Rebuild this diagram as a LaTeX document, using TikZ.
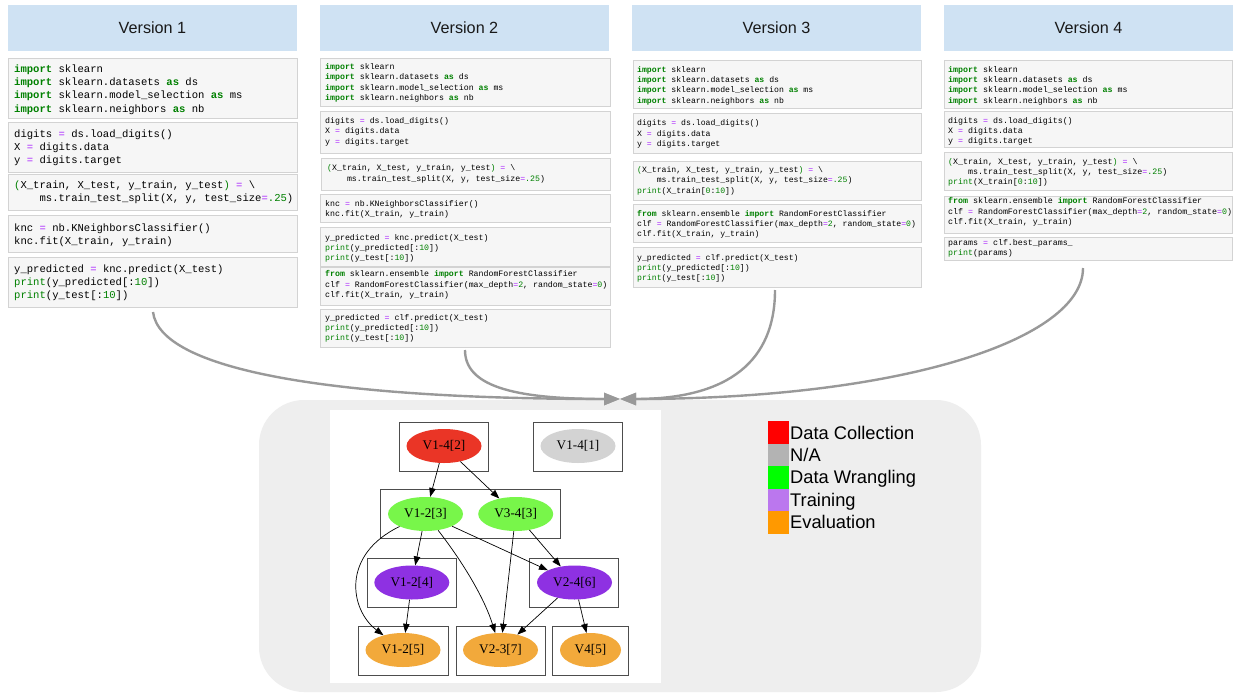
\documentclass[tikz,border=0pt]{standalone}
\usepackage{fontspec}
\setmainfont{Liberation Sans}
\newfontfamily\codefont{Liberation Mono}
\newfontfamily\graphfont{Liberation Serif}
\usetikzlibrary{arrows.meta,shapes.geometric}
\definecolor{hdrblue}{HTML}{CFE2F3}
\definecolor{cellfill}{HTML}{F6F6F6}
\definecolor{cellline}{HTML}{D3D3D3}
\definecolor{kwgreen}{HTML}{008000}
\definecolor{oppurple}{HTML}{AA22FF}
\definecolor{arrowgray}{HTML}{999999}
\definecolor{regiongray}{HTML}{EEEEEE}
\definecolor{boxline}{HTML}{4D4D4D}
\definecolor{gred}{HTML}{EA3526}
\definecolor{ggray}{HTML}{D3D3D3}
\definecolor{ggreen}{HTML}{78F64A}
\definecolor{gpurple}{HTML}{8E31E2}
\definecolor{gorange}{HTML}{F2A93B}
\definecolor{lred}{HTML}{FF0000}
\definecolor{lgray}{HTML}{B3B3B3}
\definecolor{lgreen}{HTML}{00FF00}
\definecolor{lpurple}{HTML}{BB77EE}
\definecolor{lorange}{HTML}{FF9900}
\newcommand\ckw[1]{\textcolor{kwgreen}{\bfseries #1}}
\newcommand\cop[1]{\textcolor{oppurple}{#1}}
\newcommand\cnum[1]{\textcolor{kwgreen}{#1}}
\newcommand\cind{\hphantom{XXXX}}
\tikzset{
  cell/.style={draw=cellline, fill=cellfill, line width=0.8pt},
  codeA/.style={anchor=north west, inner sep=0pt, align=left, font={\codefont\fontsize{10.57}{13.2}\selectfont}},
  codeB/.style={anchor=north west, inner sep=0pt, align=left, font={\codefont\fontsize{8.25}{10.4}\selectfont}},
  codeC/.style={anchor=north west, inner sep=0pt, align=left, font={\codefont\fontsize{8.15}{10.3}\selectfont}},
  codeD/.style={anchor=north west, inner sep=0pt, align=left, font={\codefont\fontsize{8.3}{10.3}\selectfont}},
  hdr/.style={fill=hdrblue, inner sep=0pt, minimum width=289pt, minimum height=45.5pt, text=black!90, font={\fontsize{16.2}{19}\selectfont}},
  bigarrow/.style={draw=arrowgray, line width=2.4pt, -{Triangle[length=16pt,width=12pt]}},
  gnode/.style={ellipse, inner sep=0pt, minimum width=75pt, minimum height=34pt, font={\graphfont\fontsize{13.2}{15}\selectfont}},
  gbox/.style={draw=boxline, line width=0.9pt},
  gedge/.style={draw=black, line width=0.7pt, -{Triangle[length=9pt,width=6.5pt]}},
  lsq/.style={inner sep=0pt, minimum width=21pt, minimum height=22.5pt, anchor=north west},
  ltext/.style={anchor=base west, inner sep=0pt, font={\fontsize{18.3}{20}\selectfont}}
}
\begin{document}
\begin{tikzpicture}[x=1pt, y=-1pt]
\useasboundingbox (0,0) rectangle (1233,693);
\fill[white] (0,0) rectangle (1233,693);

% ---------- headers ----------
\node[hdr] (h1) at (152.5,27.8) {Version 1};
\node[hdr] (h2) at (464.5,27.8) {Version 2};
\node[hdr] (h3) at (776.5,27.8) {Version 3};
\node[hdr] (h4) at (1088.5,27.8) {Version 4};

% ---------- Version 1 ----------
\draw[cell] (8,58) rectangle (297,118);
\node[codeA] (v1a) at (14,63.1) {\strut\ckw{import} sklearn\\
\strut\ckw{import} sklearn.datasets \ckw{as} ds\\
\strut\ckw{import} sklearn.model\_selection \ckw{as} ms\\
\strut\ckw{import} sklearn.neighbors \ckw{as} nb};
\draw[cell] (8,122) rectangle (297,172);
\node[codeA] (v1b) at (14,128.1) {\strut digits \cop{=} ds.load\_digits()\\
\strut X \cop{=} digits.data\\
\strut y \cop{=} digits.target};
\draw[cell] (8,174) rectangle (297,210);
\node[codeA] (v1c) at (14,178.8) {\strut\cnum{(}X\_train, X\_test, y\_train, y\_test\cnum{)} \cop{=} \textbackslash\\
\strut\cind ms.train\_test\_split(X, y, test\_size\cop{=}\cnum{.25})};
\draw[cell] (8,215) rectangle (297,252);
\node[codeA] (v1d) at (14,222.1) {\strut knc \cop{=} nb.KNeighborsClassifier()\\
\strut knc.fit(X\_train, y\_train)};
\draw[cell] (8,257) rectangle (297,307);
\node[codeA] (v1e) at (14,263.1) {\strut y\_predicted \cop{=} knc.predict(X\_test)\\
\strut\cnum{print}(y\_predicted[:\cnum{10}])\\
\strut\cnum{print}(y\_test[:\cnum{10}])};

% ---------- Version 2 ----------
\draw[cell] (320,58) rectangle (610,106);
\node[codeB] (v2a) at (325,62.0) {\strut\ckw{import} sklearn\\
\strut\ckw{import} sklearn.datasets \ckw{as} ds\\
\strut\ckw{import} sklearn.model\_selection \ckw{as} ms\\
\strut\ckw{import} sklearn.neighbors \ckw{as} nb};
\draw[cell] (320,111) rectangle (610,153);
\node[codeB] (v2b) at (325,116.0) {\strut digits \cop{=} ds.load\_digits()\\
\strut X \cop{=} digits.data\\
\strut y \cop{=} digits.target};
\draw[cell] (321,158) rectangle (610,190);
\node[codeB] (v2c) at (327,163.3) {\strut\cnum{(}X\_train, X\_test, y\_train, y\_test\cnum{)} \cop{=} \textbackslash\\
\strut\cind ms.train\_test\_split(X, y, test\_size\cop{=}\cnum{.25})};
\draw[cell] (320,194) rectangle (610,222);
\node[codeB] (v2d) at (325,199.0) {\strut knc \cop{=} nb.KNeighborsClassifier()\\
\strut knc.fit(X\_train, y\_train)};
\draw[cell] (320,227) rectangle (610,266);
\node[codeB] (v2e) at (325,232.7) {\strut y\_predicted \cop{=} knc.predict(X\_test)\\
\strut\cnum{print}(y\_predicted[:\cnum{10}])\\
\strut\cnum{print}(y\_test[:\cnum{10}])};
\draw[cell] (320,267) rectangle (610,305);
\node[codeB] (v2f) at (325,269.3) {\strut\ckw{from} sklearn.ensemble \ckw{import} RandomForestClassifier\\
\strut clf \cop{=} RandomForestClassifier(max\_depth\cop{=}\cnum{2}, random\_state\cop{=}\cnum{0})\\
\strut clf.fit(X\_train, y\_train)};
\draw[cell] (320,309) rectangle (610,347);
\node[codeB] (v2g) at (325,312.7) {\strut y\_predicted \cop{=} clf.predict(X\_test)\\
\strut\cnum{print}(y\_predicted[:\cnum{10}])\\
\strut\cnum{print}(y\_test[:\cnum{10}])};

% ---------- Version 3 ----------
\draw[cell] (633,60) rectangle (921,108);
\node[codeC] (v3a) at (637,64.8) {\strut\ckw{import} sklearn\\
\strut\ckw{import} sklearn.datasets \ckw{as} ds\\
\strut\ckw{import} sklearn.model\_selection \ckw{as} ms\\
\strut\ckw{import} sklearn.neighbors \ckw{as} nb};
\draw[cell] (633,113) rectangle (921,153);
\node[codeC] (v3b) at (637,118.4) {\strut digits \cop{=} ds.load\_digits()\\
\strut X \cop{=} digits.data\\
\strut y \cop{=} digits.target};
\draw[cell] (633,161) rectangle (921,200);
\node[codeC] (v3c) at (637,165.1) {\strut\cnum{(}X\_train, X\_test, y\_train, y\_test\cnum{)} \cop{=} \textbackslash\\
\strut\cind ms.train\_test\_split(X, y, test\_size\cop{=}\cnum{.25})\\
\strut\cnum{print}(X\_train[\cnum{0}:\cnum{10}])};
\draw[cell] (633,204) rectangle (921,242);
\node[codeC] (v3d) at (637,208.8) {\strut\ckw{from} sklearn.ensemble \ckw{import} RandomForestClassifier\\
\strut clf \cop{=} RandomForestClassifier(max\_depth\cop{=}\cnum{2}, random\_state\cop{=}\cnum{0})\\
\strut clf.fit(X\_train, y\_train)};
\draw[cell] (633,247) rectangle (921,287);
\node[codeC] (v3e) at (637,252.8) {\strut y\_predicted \cop{=} clf.predict(X\_test)\\
\strut\cnum{print}(y\_predicted[:\cnum{10}])\\
\strut\cnum{print}(y\_test[:\cnum{10}])};

% ---------- Version 4 ----------
\draw[cell] (944,60) rectangle (1232,108);
\node[codeD] (v4a) at (948,64.8) {\strut\ckw{import} sklearn\\
\strut\ckw{import} sklearn.datasets \ckw{as} ds\\
\strut\ckw{import} sklearn.model\_selection \ckw{as} ms\\
\strut\ckw{import} sklearn.neighbors \ckw{as} nb};
\draw[cell] (944,111) rectangle (1232,147);
\node[codeD] (v4b) at (948,115.8) {\strut digits \cop{=} ds.load\_digits()\\
\strut X \cop{=} digits.data\\
\strut y \cop{=} digits.target};
\draw[cell] (944,152) rectangle (1232,190);
\node[codeD] (v4c) at (948,156.8) {\strut\cnum{(}X\_train, X\_test, y\_train, y\_test\cnum{)} \cop{=} \textbackslash\\
\strut\cind ms.train\_test\_split(X, y, test\_size\cop{=}\cnum{.25})\\
\strut\cnum{print}(X\_train[\cnum{0}:\cnum{10}])};
\draw[cell] (944,196) rectangle (1232,233);
\node[codeD] (v4d) at (948,196.4) {\strut\ckw{from} sklearn.ensemble \ckw{import} RandomForestClassifier\\
\strut clf \cop{=} RandomForestClassifier(max\_depth\cop{=}\cnum{2}, random\_state\cop{=}\cnum{0})\\
\strut clf.fit(X\_train, y\_train)};
\draw[cell] (944,237) rectangle (1232,260);
\node[codeD] (v4e) at (948,238.1) {\strut params \cop{=} clf.best\_params\_\\
\strut\cnum{print}(params)};

% ---------- evaluation region ----------
\fill[regiongray, rounded corners=45pt] (259,400) rectangle (981,692);
\fill[white] (330,410) rectangle (661,683);

% ---------- big arrows ----------
\coordinate (s1) at (153,312);
\coordinate (s2) at (465,350);
\coordinate (s3) at (775,290);
\coordinate (s4) at (1083,268);
\coordinate (tip) at (620,399);
\draw[bigarrow] (s1) .. controls (160,370) and (330,399) .. (tip);
\draw[bigarrow] (s2) .. controls (465,385) and (510,399) .. (tip);
\draw[bigarrow] (s3) .. controls (775,360) and (730,399) .. (tip);
\draw[bigarrow] (s4) .. controls (1083,340) and (900,399) .. (tip);

% ---------- graph clusters ----------
\draw[gbox] (399,422) rectangle (488,471);
\draw[gbox] (533,422) rectangle (622,471);
\draw[gbox] (380,489) rectangle (560,538);
\draw[gbox] (367,558) rectangle (456,607);
\draw[gbox] (529,558) rectangle (618,607);
\draw[gbox] (358,626) rectangle (448,675);
\draw[gbox] (456,626) rectangle (545,675);
\draw[gbox] (552,626) rectangle (628,675);

% ---------- graph nodes ----------
\node[gnode, fill=gred] (n2) at (444,446) {V1-4[2]};
\node[gnode, fill=ggray] (n1) at (578,446) {V1-4[1]};
\node[gnode, fill=ggreen] (n3a) at (425.5,514) {V1-2[3]};
\node[gnode, fill=ggreen] (n3b) at (515.7,514) {V3-4[3]};
\node[gnode, fill=gpurple] (n4) at (411.8,582.5) {V1-2[4]};
\node[gnode, fill=gpurple] (n6) at (574.5,582.5) {V2-4[6]};
\node[gnode, fill=gorange] (n5a) at (403,650) {V1-2[5]};
\node[gnode, fill=gorange] (n7) at (500.5,650) {V2-3[7]};
\node[gnode, fill=gorange, minimum width=61pt] (n5b) at (590.5,650) {V4[5]};

% ---------- graph edges ----------
\draw[gedge] (n2) -- (n3a);
\draw[gedge] (n2) -- (n3b);
\draw[gedge] (n3a) .. controls +(-85,41) and +(-53,-40) .. (n5a);
\draw[gedge] (n3a) .. controls +(39.5,51) and +(-15.5,-50) .. (n7);
\draw[gedge] (n3a) -- (n4);
\draw[gedge] (n3a) -- (n6);
\draw[gedge] (n3b) -- (n7);
\draw[gedge] (n3b) -- (n6);
\draw[gedge] (n4) -- (n5a);
\draw[gedge] (n6) -- (n7);
\draw[gedge] (n6) -- (n5b);

% ---------- legend ----------
\node[lsq, fill=lred] (q1) at (768,421) {};
\node[lsq, fill=lgray] (q2) at (768,443.5) {};
\node[lsq, fill=lgreen] (q3) at (768,466) {};
\node[lsq, fill=lpurple] (q4) at (768,488.5) {};
\node[lsq, fill=lorange] (q5) at (768,511) {};
\node[ltext] (t1) at (790,439.3) {Data Collection};
\node[ltext] (t2) at (790,461.7) {N/A};
\node[ltext] (t3) at (790,483.5) {Data Wrangling};
\node[ltext] (t4) at (790,506) {Training};
\node[ltext] (t5) at (790,528.3) {Evaluation};
\end{tikzpicture}
\end{document}
